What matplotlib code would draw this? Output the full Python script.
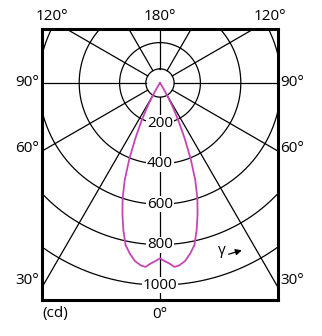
import numpy as np
import matplotlib.pyplot as plt

plt.rcParams['font.family'] = ['Open Sans', 'DejaVu Sans']

# luminous intensity (cd) against gamma (deg, 0 = straight down), symmetric curve
gamma = [0, 1.5, 3, 4.5, 6, 8, 10, 12, 14, 16, 18, 20, 22, 24, 26, 28, 30, 32, 34, 180]
intensity = [868, 882, 895, 913, 908, 890, 858, 820, 750, 675, 598, 510, 405, 300,
             210, 135, 70, 25, 0, 0]

rings = [200, 400, 600, 800, 1000]
inner_ring = 70
spokes = np.arange(0, 360, 30)

left_labels = ["90°", "60°", "30°"]
left_label_y = [83, 148, 281]  # pixel rows in the original

fig = plt.figure(figsize=(3.22, 3.36), dpi=100)
ax = fig.add_axes([42 / 322, 1 - 300 / 336, 236 / 322, 271 / 336])

px = 4.95  # cd per pixel
ax.set_xlim(-118 * px, 118 * px)
ax.set_ylim(-217 * px, 54 * px)
ax.set_aspect('equal')
ax.set_xticks([])
ax.set_yticks([])
for s in ax.spines.values():
    s.set_linewidth(2.2)
    s.set_zorder(10)

t = np.linspace(0, 2 * np.pi, 400)
for r in rings + [inner_ring]:
    ax.plot(r * np.sin(t), r * np.cos(t), color='black', lw=0.9, zorder=1)

for a in spokes:
    ar = np.radians(a)
    ax.plot([inner_ring * np.sin(ar), 2000 * np.sin(ar)],
            [-inner_ring * np.cos(ar), -2000 * np.cos(ar)],
            color='black', lw=0.9, zorder=1)

g = np.radians(np.array(gamma))
I = np.array(intensity)
gg = np.concatenate([-g[::-1], g[1:]])
II = np.concatenate([I[::-1], I[1:]])
ax.plot(II * np.sin(gg), -II * np.cos(gg), color='#c645b5', lw=1.3, zorder=3)

for r in rings:
    ax.text(0, -r, str(r), ha='center', va='center', fontsize=11, zorder=5,
            bbox=dict(facecolor='white', edgecolor='none', pad=0.4))

# gamma arrow
ax.text(62 * px, -168 * px, "γ", ha='center', va='center', fontsize=11)
ax.annotate("", xy=(84.5 * px, -166.5 * px), xytext=(66 * px, -172 * px),
            arrowprops=dict(arrowstyle='-|>', color='black', lw=0.9,
                            mutation_scale=9))

def fig_text(x, y, s):
    fig.text(x / 322, 1 - y / 336, s, ha='center', va='center', fontsize=11)

fig_text(52, 16, "120°")
fig_text(160, 16, "180°")
fig_text(270, 16, "120°")
for s, y in zip(left_labels, left_label_y):
    fig_text(27, y, s)
    fig_text(292, y, s)
fig_text(55, 314, "(cd)")
fig_text(160, 314, "0°")

fig.savefig("out.png", dpi=100)
